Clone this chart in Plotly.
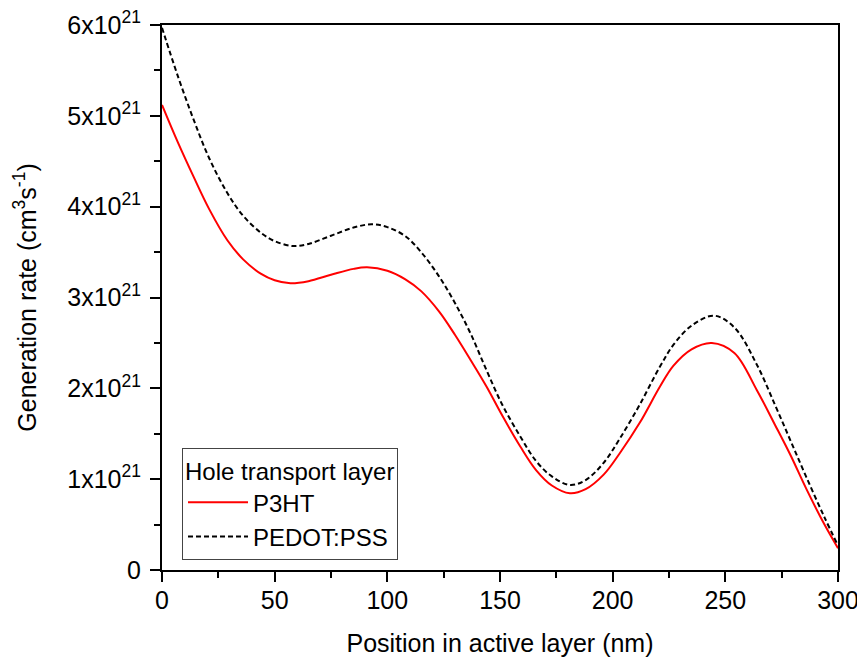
import plotly.graph_objects as go

# Position in active layer (nm)
x_p3ht = [0, 7, 14, 21, 29, 36, 44, 50, 57, 65, 75, 85, 91, 100, 108, 115, 123, 130,
          137, 144, 151, 159, 166, 173, 181, 188, 196, 203, 212, 221, 227, 235, 244,
          254, 264, 272, 279, 286, 294, 300]
# Generation rate (units of 1e21 cm^-3 s^-1)
y_p3ht = [5.12, 4.71, 4.33, 3.97, 3.63, 3.42, 3.26, 3.19, 3.157, 3.18, 3.25, 3.315, 3.332,
          3.295, 3.20, 3.07, 2.845, 2.59, 2.31, 2.02, 1.70, 1.36, 1.10, 0.93, 0.845, 0.89,
          1.05, 1.28, 1.62, 2.02, 2.25, 2.43, 2.50, 2.39, 1.98, 1.60, 1.26, 0.89, 0.50, 0.24]

x_pedot = [0, 7, 14, 21, 29, 36, 44, 50, 58, 65, 75, 85, 93, 100, 108, 115, 123, 130,
           137, 144, 151, 159, 166, 173, 181, 188, 196, 203, 212, 221, 227, 235, 245,
           254, 264, 272, 279, 286, 294, 300]
y_pedot = [5.97, 5.44, 4.96, 4.53, 4.15, 3.90, 3.71, 3.62, 3.567, 3.59, 3.68, 3.77, 3.806,
           3.775, 3.675, 3.50, 3.23, 2.94, 2.60, 2.20, 1.82, 1.47, 1.20, 1.03, 0.936, 0.99,
           1.18, 1.44, 1.82, 2.24, 2.48, 2.69, 2.80, 2.67, 2.26, 1.82, 1.42, 1.02, 0.58, 0.27]

x_ticks = [0, 50, 100, 150, 200, 250, 300]
y_ticks = [0, 1, 2, 3, 4, 5, 6]
y_ticktext = ["0"] + [f"{v}x10<sup>21</sup>" for v in y_ticks[1:]]

FONT = "Liberation Sans, Arial, sans-serif"
FS = 25
LFS = 24

fig = go.Figure()
fig.add_trace(go.Scatter(x=x_p3ht, y=y_p3ht, mode="lines", name="P3HT",
                         line=dict(color="#ff0000", width=2, shape="spline", smoothing=1.0)))
fig.add_trace(go.Scatter(x=x_pedot, y=y_pedot, mode="lines", name="PEDOT:PSS",
                         line=dict(color="#000000", width=2, dash="5px,3px",
                                   shape="spline", smoothing=1.0)))

axis_common = dict(showgrid=False, zeroline=False, linecolor="black", linewidth=2,
                   tickcolor="black", tickwidth=2, ticklen=10, automargin=False,
                   ticklabeloverflow="allow",
                   tickfont=dict(family=FONT, size=FS, color="black"))

fig.update_layout(
    width=857, height=649,
    margin=dict(l=154, r=27, t=17, b=87),
    plot_bgcolor="white", paper_bgcolor="white",
    font=dict(family=FONT, size=FS, color="black"),
    xaxis=dict(range=[0, 300], tickvals=x_ticks, ticks="outside", ticklabelstandoff=-3,
               minor=dict(dtick=25, ticklen=6, tickwidth=2, tickcolor="black", ticks="outside"),
               title=dict(text="Position in active layer (nm)", font=dict(family=FONT, size=FS),
                          standoff=21),
               showline=True, mirror=True, **axis_common),
    yaxis=dict(range=[0, 6], tickvals=y_ticks, ticktext=y_ticktext, ticks="outside",
               ticklabelstandoff=4,
               minor=dict(dtick=0.5, ticklen=6, tickwidth=2, tickcolor="black", ticks="outside"),
               title=dict(text="Generation rate (cm<sup>3</sup>s<sup>-1</sup>)",
                          font=dict(family=FONT, size=FS), standoff=24),
               showline=True, mirror=True, **axis_common),
    xaxis2=dict(overlaying="x", side="top", anchor="y", range=[0, 300], tickvals=x_ticks,
                ticks="inside", showticklabels=False, automargin=False,
                minor=dict(dtick=25, ticklen=6, tickwidth=2, tickcolor="black", ticks="inside"),
                showgrid=False, zeroline=False, showline=False,
                tickcolor="black", tickwidth=2, ticklen=10),
    yaxis2=dict(overlaying="y", side="right", anchor="x", range=[0, 6], tickvals=y_ticks,
                ticks="inside", showticklabels=False, automargin=False,
                minor=dict(dtick=0.5, ticklen=6, tickwidth=2, tickcolor="black", ticks="inside"),
                showgrid=False, zeroline=False, showline=False,
                tickcolor="black", tickwidth=2, ticklen=10),
    showlegend=True,
    legend=dict(x=0.0296, y=0.2239, xanchor="left", yanchor="top",
                bordercolor="#444444", borderwidth=1, bgcolor="white",
                title=dict(text="Hole transport layer", font=dict(family=FONT, size=LFS)),
                font=dict(family=FONT, size=LFS), itemwidth=60, tracegroupgap=0),
)

fig.write_html("out.html")
